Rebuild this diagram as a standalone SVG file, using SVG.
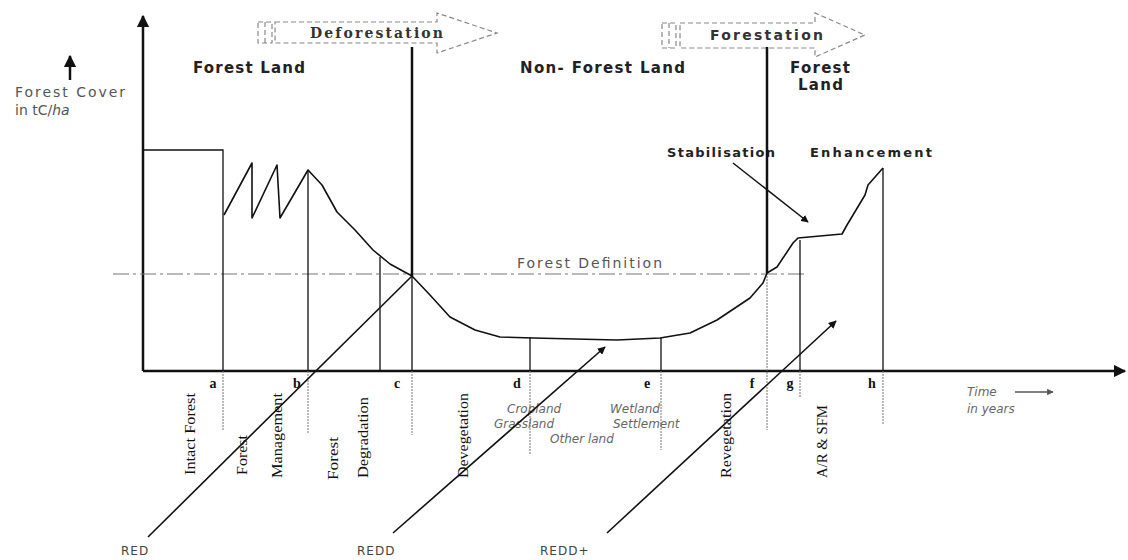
<svg xmlns="http://www.w3.org/2000/svg" width="1128" height="560" viewBox="0 0 1128 560">
<defs>
<style>
.ax{stroke:#111;stroke-width:2.5;fill:none}
.ln{stroke:#111;stroke-width:1.3;fill:none}
.thick{stroke:#111;stroke-width:2.5;fill:none}
.below{stroke:#777;stroke-width:1;fill:none;stroke-dasharray:2 1}
.curve{stroke:#111;stroke-width:1.6;fill:none;stroke-linejoin:round}
.def{stroke:#777;stroke-width:1.2;fill:none;stroke-dasharray:16 4 3 4}
.dash{stroke:#888;stroke-width:1.2;fill:none;stroke-dasharray:5 3}
.diag{stroke:#111;stroke-width:1.6;fill:none}
.hd{font-family:"DejaVu Sans",sans-serif;font-weight:bold;font-size:15px;fill:#222}
.hd2{font-family:"DejaVu Sans",sans-serif;font-weight:bold;font-size:13px;fill:#222}
.gr{font-family:"DejaVu Sans",sans-serif;font-size:14px;fill:#555}
.it{font-family:"DejaVu Sans",sans-serif;font-style:italic;font-size:12px;fill:#666}
.let{font-family:"Liberation Serif",serif;font-weight:bold;font-size:14px;fill:#111;text-anchor:middle}
.rot{font-family:"Liberation Serif",serif;font-size:15px;fill:#111}
.red{font-family:"DejaVu Sans",sans-serif;font-size:12px;fill:#444;letter-spacing:1px}
</style>
<marker id="ah" viewBox="0 0 10 10" refX="9" refY="5" markerWidth="5" markerHeight="5" orient="auto-start-reverse"><path d="M0,0 L10,5 L0,10 Z" fill="#111"/></marker>
<marker id="ahs" viewBox="0 0 10 10" refX="9" refY="5" markerWidth="5" markerHeight="5" orient="auto"><path d="M0,0 L10,5 L0,10 Z" fill="#555"/></marker>
</defs>
<rect width="1128" height="560" fill="#fff"/>

<g id="axes">
<line class="ax" x1="143" y1="371" x2="143" y2="16" marker-end="url(#ah)"/>
<line class="ax" x1="143" y1="371" x2="1125" y2="371" marker-end="url(#ah)"/>
</g>

<g id="y-label">
<line x1="70" y1="80" x2="70" y2="56" stroke="#111" stroke-width="2.5" marker-end="url(#ah)"/>
<text class="gr" x="15" y="97" textLength="110">Forest Cover</text>
<text class="gr" x="15" y="115">in tC/<tspan font-style="italic">ha</tspan></text>
</g>

<g id="x-label">
<text class="it" x="967" y="396" font-size="13">Time</text>
<line x1="1015" y1="392" x2="1053" y2="392" stroke="#555" stroke-width="1.3" marker-end="url(#ahs)"/>
<text class="it" x="967" y="413" font-size="13">in years</text>
</g>

<g id="deforestation-arrow">
<rect class="dash" x="258" y="22" width="14" height="21"/>
<line class="dash" x1="265" y1="22" x2="265" y2="43"/>
<path class="dash" d="M275,22 H437 V13 L497,33 L437,53 V43 H275 Z"/>
<text x="310" y="38" font-family="'DejaVu Serif',serif" font-weight="bold" font-size="14" fill="#333" textLength="133">Deforestation</text>
</g>

<g id="forestation-arrow">
<rect class="dash" x="662" y="23" width="14" height="25"/>
<line class="dash" x1="669" y1="23" x2="669" y2="48"/>
<path class="dash" d="M680,23 H815 V13 L865,35 L815,57 V48 H680 Z"/>
<text x="710" y="40" font-family="'DejaVu Sans',sans-serif" font-weight="bold" font-size="14" fill="#333" textLength="113">Forestation</text>
</g>

<g id="region-labels">
<text class="hd" x="193" y="73" textLength="112">Forest Land</text>
<text class="hd" x="520" y="73" textLength="165">Non- Forest Land</text>
<text class="hd" x="790" y="73" textLength="60">Forest</text>
<text class="hd" x="798" y="90" textLength="45">Land</text>
</g>

<g id="stabilisation">
<text class="hd2" x="667" y="157" textLength="108">Stabilisation</text>
<line x1="733" y1="163" x2="808" y2="222" stroke="#111" stroke-width="1.5" marker-end="url(#ah)"/>
</g>
<g id="enhancement">
<text class="hd2" x="810" y="157" textLength="122">Enhancement</text>
</g>

<g id="forest-definition">
<line class="def" x1="113" y1="274" x2="805" y2="274"/>
<text class="gr" x="517" y="268" textLength="145">Forest Definition</text>
</g>

<g id="markers">
<path class="ln" d="M143,150 H223 V371"/>
<line class="below" x1="223" y1="371" x2="223" y2="430"/>
<line class="ln" x1="308" y1="170" x2="308" y2="371"/>
<line class="below" x1="308" y1="371" x2="308" y2="433"/>
<line class="ln" x1="380" y1="257" x2="380" y2="371"/>
<line class="thick" x1="412" y1="47" x2="412" y2="276"/>
<line class="ln" x1="412" y1="276" x2="412" y2="371"/>
<line class="below" x1="412" y1="371" x2="412" y2="435"/>
<line class="ln" x1="530" y1="337" x2="530" y2="371"/>
<line class="below" x1="530" y1="371" x2="530" y2="455"/>
<line class="ln" x1="661" y1="338" x2="661" y2="371"/>
<line class="below" x1="661" y1="371" x2="661" y2="450"/>
<line class="thick" x1="767" y1="47" x2="767" y2="273"/>
<line class="below" x1="767" y1="273" x2="767" y2="430"/>
<line class="ln" x1="800" y1="240" x2="800" y2="371"/>
<line class="below" x1="800" y1="371" x2="800" y2="398"/>
<line class="ln" x1="883" y1="168" x2="883" y2="371"/>
<line class="below" x1="883" y1="371" x2="883" y2="424"/>
</g>

<g id="forest-cover-curve">
<path class="curve" d="M224,215 L252,163 L252,218 L277,165 L280,218 L308,170 L322,185 L337,212 L355,230 L373,250 L390,264 L412,276 L430,295 L450,317 L475,330 L500,337 L533,338 L575,339 L617,340 L660,338 L690,333 L717,320 L750,298 L763,283 L767,273 L777,267 L793,243 L798,238 L842,234 L847,225 L865,195 L868,185 L883,168"/>
</g>

<g id="axis-letters">
<text class="let" x="213" y="388">a</text>
<text class="let" x="297" y="388">b</text>
<text class="let" x="397" y="388">c</text>
<text class="let" x="517" y="388">d</text>
<text class="let" x="647" y="388">e</text>
<text class="let" x="752" y="388">f</text>
<text class="let" x="790" y="388">g</text>
<text class="let" x="872" y="388">h</text>
</g>

<g id="phase-labels">
<text class="rot" transform="translate(195,475) rotate(-90)" textLength="82" lengthAdjust="spacingAndGlyphs">Intact Forest</text>
<text class="rot" transform="translate(247,475) rotate(-90)" textLength="40" lengthAdjust="spacingAndGlyphs">Forest</text>
<text class="rot" transform="translate(282,478) rotate(-90)" textLength="85" lengthAdjust="spacingAndGlyphs">Management</text>
<text class="rot" transform="translate(338,480) rotate(-90)" textLength="43" lengthAdjust="spacingAndGlyphs">Forest</text>
<text class="rot" transform="translate(368,478) rotate(-90)" textLength="81" lengthAdjust="spacingAndGlyphs">Degradation</text>
<text class="rot" transform="translate(468,478) rotate(-90)" textLength="85" lengthAdjust="spacingAndGlyphs">Devegetation</text>
<text class="rot" transform="translate(731,478) rotate(-90)" textLength="85" lengthAdjust="spacingAndGlyphs">Revegetation</text>
<text class="rot" transform="translate(827,478) rotate(-90)" textLength="73" lengthAdjust="spacingAndGlyphs">A/R &amp; SFM</text>
</g>

<g id="land-uses">
<text class="it" x="507" y="413">Cropland</text>
<text class="it" x="494" y="428">Grassland</text>
<text class="it" x="610" y="413">Wetland</text>
<text class="it" x="613" y="428">Settlement</text>
<text class="it" x="550" y="443">Other land</text>
</g>

<g id="connectors">
<line class="diag" x1="148" y1="537" x2="412" y2="276" stroke-width="2"/>
<line class="diag" x1="393" y1="533" x2="605" y2="347" marker-end="url(#ah)"/>
<line class="diag" x1="607" y1="533" x2="836" y2="321" marker-end="url(#ah)"/>
</g>

<g id="mechanism-labels">
<text class="red" x="121" y="555">RED</text>
<text class="red" x="357" y="555">REDD</text>
<text class="red" x="540" y="555">REDD+</text>
</g>
</svg>
